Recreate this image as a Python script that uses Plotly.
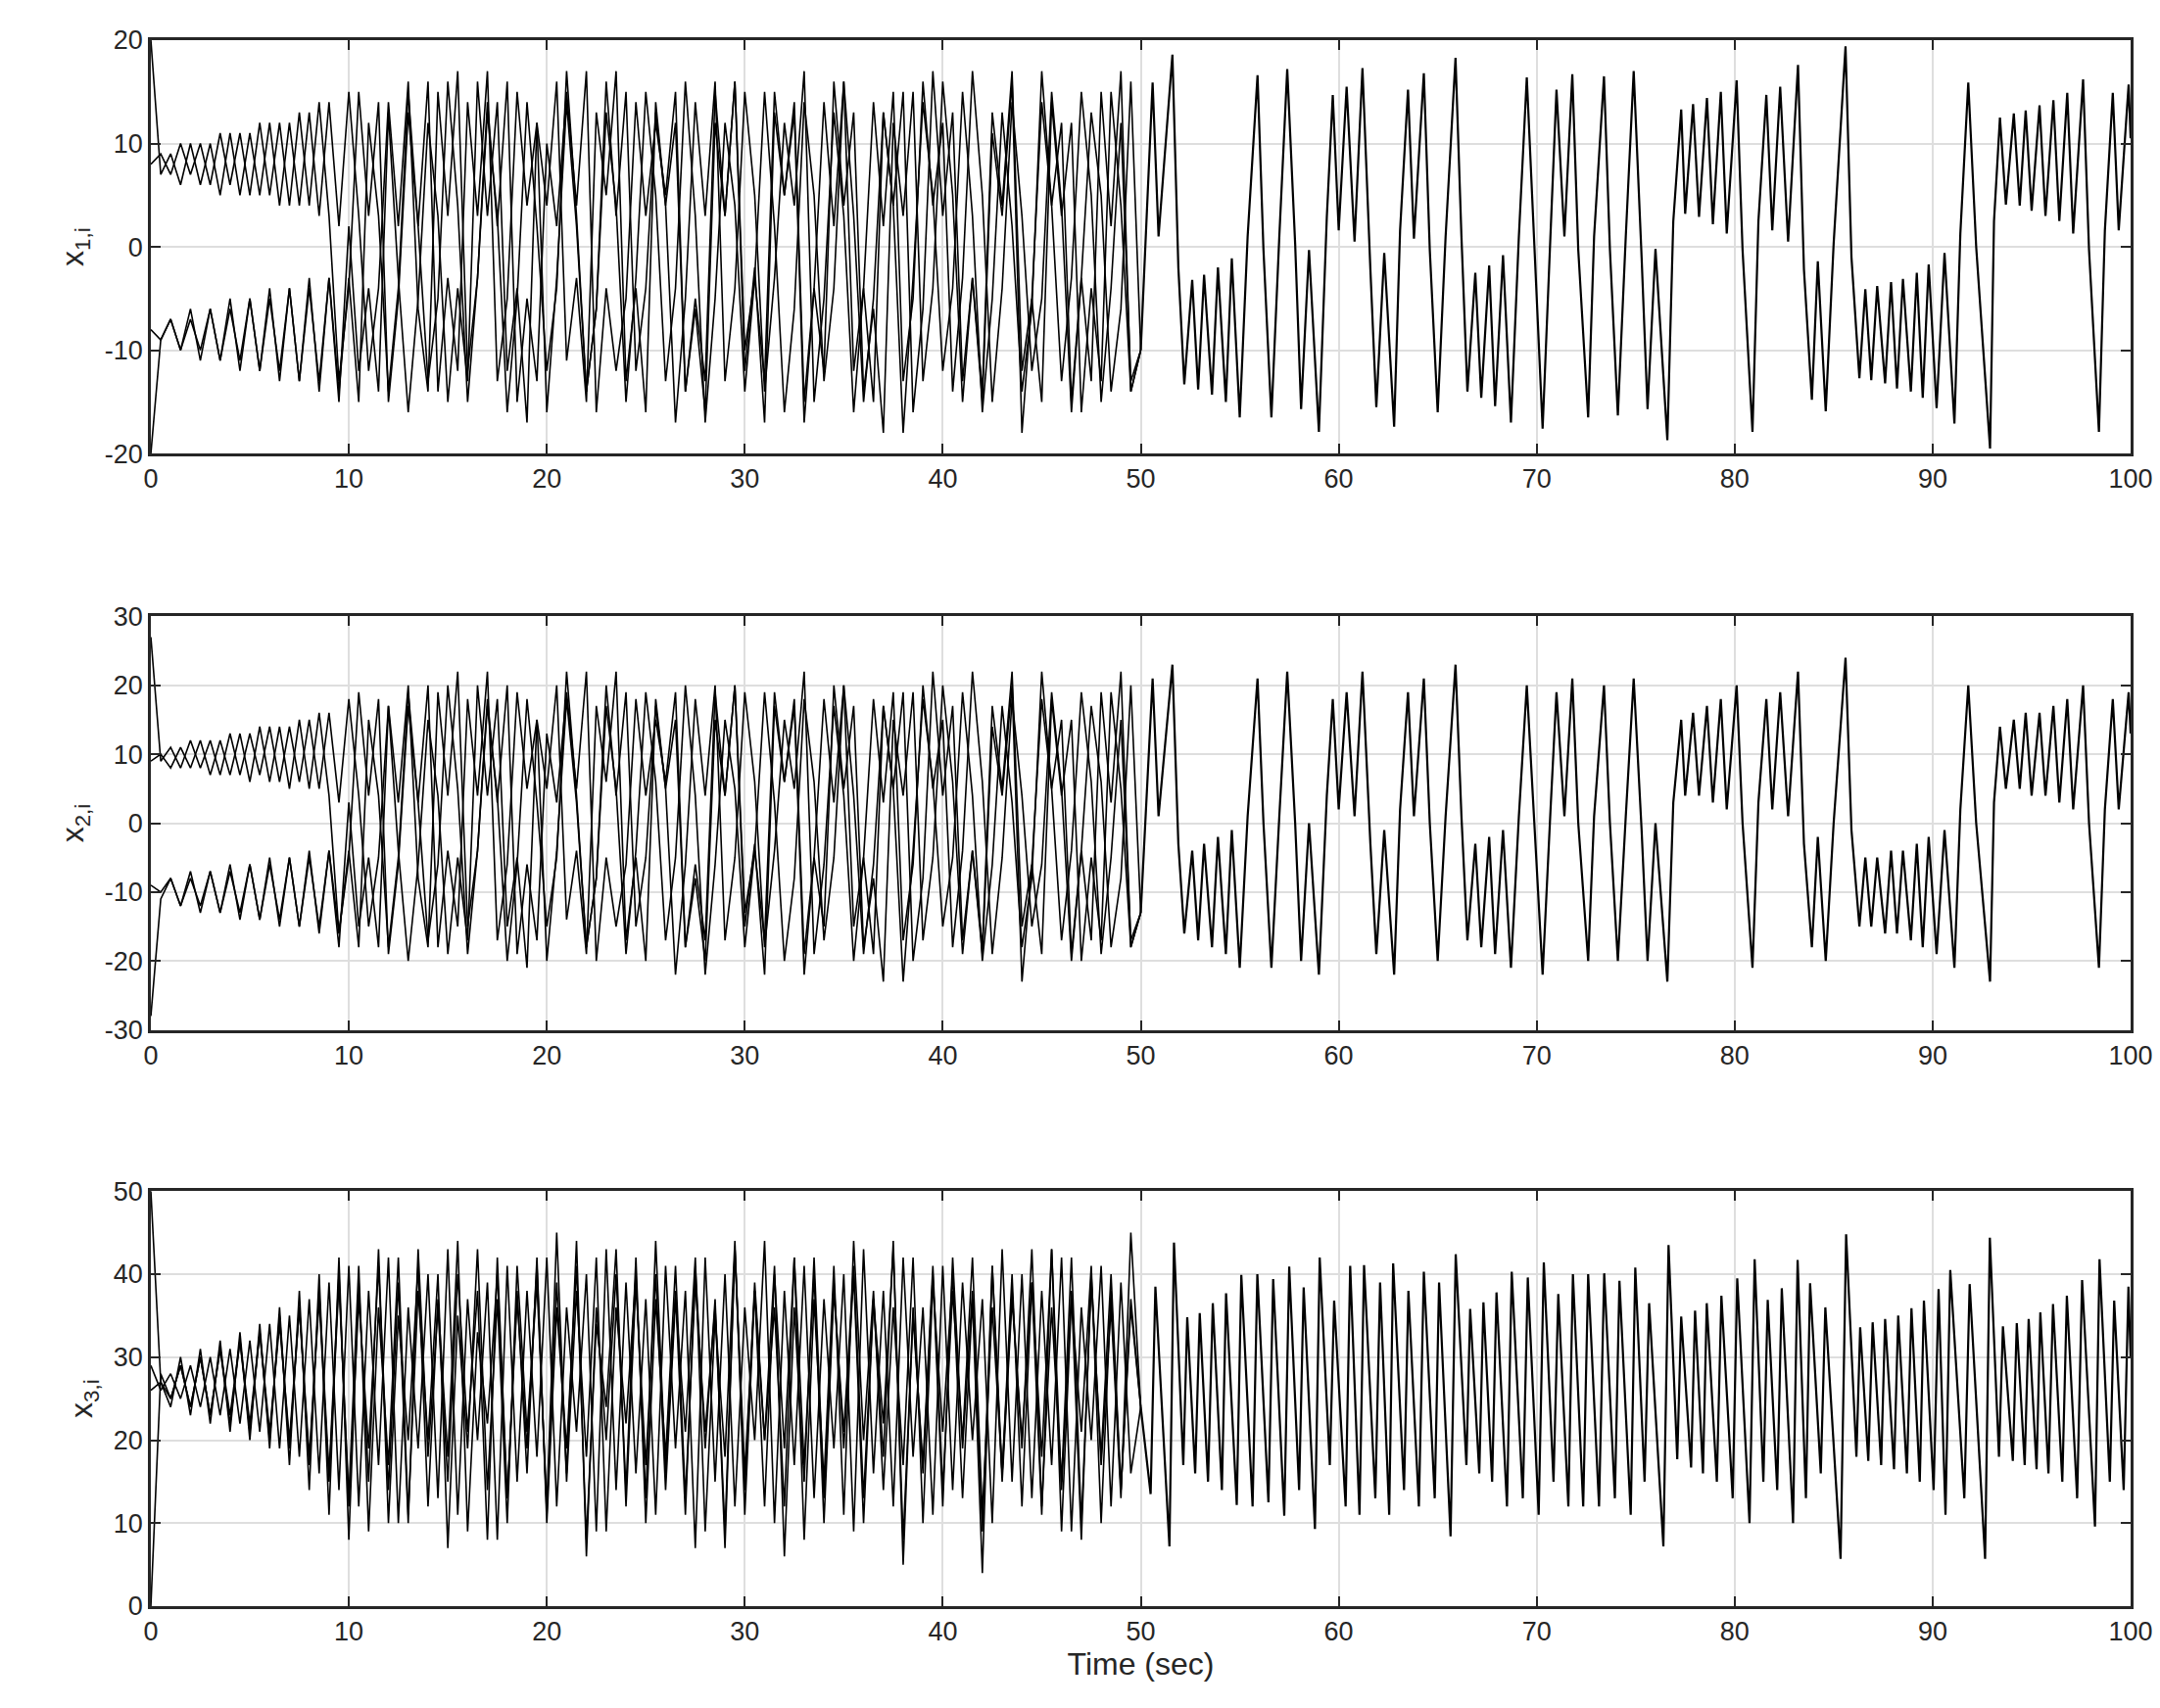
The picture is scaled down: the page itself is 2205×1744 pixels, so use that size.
import numpy as np
import plotly.graph_objects as go
from plotly.subplots import make_subplots

# ---- data ----
# before synchronisation (0-50 s), four agents, sampled every 0.5 s
t_pre = np.arange(100) * 0.5

x1_a = [20,7,9,6,10,6,10,5,11,5, 11,5,12,4,12,4,13,3,14,2, 15,3,-12,-4,14,2,16,-6,-14,15,
        3,17,-12,-3,14,2,16,-15,-5,-13, 10,2,15,4,17,-16,-4,-12,-5,14, 3,12,5,15,-14,-6,-16,12,3,16,
        -10,-3,-13,15,5,13,-17,-4,14,2, 16,-12,-4,-15,13,4,15,-16,-6,17, 3,13,-13,-3,-15,11,3,16,-18,-5,
        14,4,12,-15,-3,-13,15,2,17,-14]
x1_b = [-20,-9,-7,-10,-6,-11,-6,-11,-5,-12, -5,-12,-4,-13,-4,-13,-3,-14,-3,-15, 2,-12,-4,-14,13,-3,-16,-5,12,3,
        -15,-4,-13,16,3,14,-12,-4,-17,12, 4,16,-11,-3,-15,13,5,17,-13,-4, -16,14,4,12,-14,-5,-13,15,3,16,
        -12,-2,-17,13,5,14,-15,-4,-12,16, 4,13,-14,-6,-18,12,3,15,-13,-4, 16,5,-15,-3,-14,13,4,17,-12,-5,
        -15,14,3,12,-16,-4,-13,15,4,-14]
x1_c = [8,9,7,10,7,10,6,11,6,11, 5,12,5,12,4,13,4,14,3,-13, -4,15,3,14,-15,-5,13,2,16,-14,
        -3,-12,14,3,17,-13,-5,15,4,12, -16,-3,14,2,-14,-6,16,3,15,-12, -4,13,4,-17,-5,14,3,16,-13,-4,
        15,5,-14,-3,12,4,17,-15,-5,13, 3,-16,-4,14,2,15,-13,-5,16,4, 12,-14,-3,17,5,-15,-4,14,3,-12,
        -5,15,4,-16,-3,13,5,-14,-6,16]
x1_d = [-8,-9,-7,-10,-7,-10,-6,-11,-6,-11, -5,-12,-5,-12,-4,-13,-4,-13,-3,-14, -3,-15,12,3,-14,-4,15,2,-13,-5,
        16,4,-15,-3,13,3,-16,-5,14,2, -12,-4,17,3,-14,-6,13,4,-15,-3, 15,5,-13,-4,16,3,-17,-5,12,4,
        -14,-3,15,2,-16,-6,14,5,-13,-4, 16,3,-15,-5,13,4,-18,-3,14,5, -12,-4,15,3,-16,-5,13,2,-14,-6,
        17,4,-13,-3,15,5,-15,-4,12,-13]

x2_a = [27,9,11,8,12,8,12,7,13,7, 13,7,14,6,14,6,15,5,16,3, 18,4,-15,-5,17,3,20,-8,-18,19,
        4,22,-15,-4,18,3,20,-19,-6,-17, 13,3,19,5,22,-20,-5,-15,-6,18, 4,15,6,19,-18,-8,-20,15,4,20,
        -13,-4,-17,19,6,17,-22,-5,18,3, 20,-15,-5,-19,17,5,19,-20,-8,22, 4,17,-17,-4,-19,14,4,20,-23,-6,
        18,5,15,-19,-4,-17,19,3,22,-18]
x2_b = [-28,-11,-8,-12,-7,-13,-7,-13,-6,-14, -6,-14,-5,-15,-5,-15,-4,-16,-4,-18, 3,-15,-5,-18,17,-4,-20,-6,15,4,
        -19,-5,-17,20,4,18,-15,-5,-21,15, 5,20,-14,-4,-19,17,6,22,-17,-5, -20,18,5,15,-18,-6,-17,19,4,20,
        -15,-3,-22,17,6,18,-19,-5,-15,20, 5,17,-18,-8,-23,15,4,19,-17,-5, 20,6,-19,-4,-18,17,5,22,-15,-6,
        -19,18,4,15,-20,-5,-17,19,5,-18]
x2_c = [9,10,8,11,8,12,7,12,7,13, 6,14,6,14,5,15,5,16,4,-16, -5,19,4,18,-19,-6,17,3,20,-18,
        -4,-15,18,4,22,-17,-6,19,5,15, -20,-4,18,3,-18,-8,20,4,19,-15, -5,17,5,-22,-6,18,4,20,-17,-5,
        19,6,-18,-4,15,5,22,-19,-6,17, 4,-20,-5,18,3,19,-17,-6,20,5, 15,-18,-4,22,6,-19,-5,18,4,-15,
        -6,19,5,-20,-4,17,6,-18,-8,20]
x2_d = [-9,-10,-8,-12,-8,-12,-7,-13,-7,-13, -6,-14,-6,-14,-5,-15,-5,-15,-4,-16, -4,-18,15,4,-18,-5,19,3,-17,-6,
        20,5,-19,-4,17,4,-20,-6,18,3, -15,-5,22,4,-18,-8,17,5,-19,-4, 19,6,-17,-5,20,4,-22,-6,15,5,
        -18,-4,19,3,-20,-8,18,6,-17,-5, 20,4,-19,-6,17,5,-23,-4,18,6, -15,-5,19,4,-20,-6,17,3,-18,-8,
        22,5,-17,-4,19,6,-19,-5,15,-17]

x3_a = [50,27,24,30,23,31,22,32,21,33, 20,34,19,36,17,38,14,40,11,42, 8,39,15,43,10,35,20,41,12,37,
        18,44,9,33,22,40,13,38,16,42, 10,36,19,41,8,34,24,43,12,39, 17,40,14,37,21,42,9,35,18,44,
        11,38,20,41,6,36,15,42,13,39, 19,40,10,37,22,43,8,35,17,41, 14,38,20,42,11,36,16,40,12,39,
        18,43,9,37,21,41,10,38,14,36]
x3_b = [0,28,25,29,24,30,23,31,22,32, 22,33,21,34,20,36,18,37,15,39, 13,41,9,36,17,42,11,38,20,40,
        7,35,19,43,14,37,10,41,21,39, 12,45,15,38,18,42,9,36,22,40, 13,44,16,38,11,41,19,37,7,43,
        14,39,20,36,12,42,17,40,10,38, 21,41,13,37,18,44,5,36,16,40, 12,42,19,38,9,41,15,37,20,39,
        11,43,14,38,8,40,17,36,13,45]
x3_c = [26,27,25,29,24,30,23,31,23,32, 21,33,20,35,19,36,17,38,16,40, 12,37,19,41,14,39,10,43,18,36,
        15,40,21,38,8,42,13,37,19,41, 11,39,16,44,6,36,20,40,14,42, 10,37,18,41,13,39,21,36,9,43,
        16,38,12,40,19,42,8,37,15,41, 11,44,20,38,14,36,17,42,10,39, 21,40,13,37,4,41,16,38,19,43,
        12,36,15,42,10,39,18,40,14,37]
x3_d = [29,26,28,25,29,24,30,23,31,22, 32,21,34,19,35,18,37,16,39,14, 41,12,38,17,42,10,36,19,40,13,
        43,11,37,20,39,8,41,15,38,18, 42,12,36,21,40,9,43,14,39,16, 37,11,41,19,38,7,42,15,40,12,
        36,20,44,10,38,17,41,13,37,19, 40,9,43,16,38,12,42,18,36,11, 41,14,39,20,37,10,43,15,40,13,
        38,17,42,9,36,20,41,12,39,16]

# after synchronisation (50-100 s): one common trajectory, turning points
t_sync = [50.0,50.6,50.9,51.6,51.9,52.2,52.6,52.9,53.2,53.6,53.9,54.3,54.6,55.0,55.4,55.9,56.2,56.6,57.0,57.4,
          57.8,58.1,58.5,59.0,59.4,59.7,60.0,60.4,60.8,61.2,61.6,61.9,62.3,62.8,63.1,63.5,63.8,64.3,64.6,65.0,
          65.4,65.9,66.2,66.5,66.9,67.2,67.6,67.9,68.3,68.7,69.1,69.5,69.9,70.3,70.7,71.0,71.4,71.8,72.1,72.6,
          72.9,73.4,73.7,74.1,74.5,74.9,75.3,75.6,76.0,76.6,76.9,77.3,77.5,77.9,78.2,78.6,78.9,79.3,79.6,80.1,
          80.4,80.9,81.2,81.6,81.9,82.3,82.7,83.2,83.5,83.9,84.2,84.6,85.0,85.6,85.9,86.3,86.6,86.9,87.2,87.6,
          87.9,88.2,88.5,88.9,89.2,89.5,89.8,90.2,90.6,91.1,91.4,91.8,92.2,92.9,93.1,93.4,93.7,94.1,94.4,94.7,
          95.0,95.4,95.7,96.1,96.4,96.8,97.1,97.6,97.9,98.4,98.7,99.1,99.4,99.9,100.0]
x1_sync = [-10,15.9,1,18.6,-2,-13.3,-3.2,-13.8,-2.7,-14.3,-2,-15,-1.1,-16.5,1,16.6,-0.3,-16.5,1,17.2,
           0.3,-15.7,-0.3,-17.9,2.9,14.7,1.6,15.5,0.5,17.3,-2.2,-15.5,-0.6,-17.4,1.6,15.2,0.8,16.8,-0.3,-16,
           1,18.3,1,-14,-2.5,-14.6,-1.8,-15.4,-0.8,-17,1,16.4,-0.6,-17.6,1.3,15.2,1,16.7,-0.3,-16.5,
           1,16.5,-0.3,-16.3,1,17,-1,-15.7,-0.2,-18.7,2.5,13.3,3.2,13.8,2.9,14.4,2.2,15,1.3,16.1,
           -0.3,-17.9,2.5,14.7,1.6,15.5,0.5,17.6,-2.2,-14.8,-1.4,-15.9,0.3,19.4,-1,-12.7,-4.1,-12.9,-3.8,-13.2,
           -3.4,-13.7,-3.1,-14,-2.5,-14.6,-1.7,-15.6,-0.6,-17.1,1.3,15.9,0,-19.5,2.5,12.5,4.1,12.9,4,13.2,
           3.5,13.7,3,14.2,2.5,14.9,1.3,16.2,-0.3,-17.9,1.6,14.9,1.6,15.7,10.5]
x2_sync = [-13,21,1,23,-3,-16,-4,-17,-3,-18,-2,-19,-1,-21,1,21,0,-21,1,22,
           0,-20,0,-22,4,18,2,19,1,22,-3,-19,-1,-22,2,19,1,21,0,-20,
           1,23,1,-17,-3,-18,-2,-19,-1,-21,1,20,-1,-22,2,19,1,21,0,-20,
           1,20,0,-20,1,21,-1,-20,0,-23,3,15,4,16,4,17,3,18,2,20,
           0,-21,3,18,2,19,1,22,-3,-18,-2,-20,0,24,-1,-15,-5,-15,-5,-16,
           -4,-16,-4,-17,-3,-18,-2,-19,-1,-21,2,20,0,-23,3,14,5,15,5,16,
           4,16,4,17,3,18,2,20,0,-21,2,18,2,19,13]

t3_sync = [50.0,50.5,50.74,51.45,51.68,52.15,52.35,52.75,52.98,53.4,53.64,54.1,54.31,54.85,55.08,55.65,55.89,56.45,56.69,57.25,
           57.50,58.0,58.23,58.8,59.04,59.55,59.77,60.35,60.58,61.05,61.28,61.85,62.09,62.55,62.75,63.3,63.52,64.05,64.30,64.85,
           65.07,65.65,65.91,66.45,66.64,67.1,67.31,67.75,67.97,68.5,68.74,69.3,69.55,70.1,70.36,70.85,71.09,71.6,71.83,72.35,
           72.60,73.15,73.41,73.95,74.18,74.75,74.98,75.45,75.68,76.4,76.66,77.1,77.30,77.8,78.00,78.4,78.59,79.1,79.33,79.9,
           80.13,80.75,81.01,81.45,81.67,82.15,82.38,82.95,83.18,83.6,83.81,84.35,84.58,85.35,85.63,86.15,86.34,86.75,86.97,87.4,
           87.60,88.05,88.26,88.7,88.93,89.35,89.56,90.05,90.30,90.65,90.89,91.6,91.87,92.65,92.89,93.35,93.55,94.05,94.25,94.65,
           94.85,95.25,95.44,95.85,96.08,96.55,96.78,97.3,97.55,98.2,98.43,98.95,99.17,99.65,99.89,100.0]
x3_sync = [24,13.5,38.5,7.2,43.8,17,34.8,16,35.3,15,36.5,14,37.7,12.2,39.9,12,40,12.5,39.4,10.9,
           40.9,14,38.4,9.3,42,17,36.8,12,41,11,41.1,13,39,11,41.3,14,38,12,40.3,13,
           39,8.4,42.4,17,35.8,16,36.6,15,37.8,12,40.3,13,39.6,11,41.4,15,37.6,12,40,12,
           40,12,40.1,13,39.2,11,40.8,15,36.5,7.2,43.5,17.7,34.9,16.7,35.6,16,36.5,15,37.4,13,
           39.5,10,41.8,15,36.9,14,38.3,10,41.7,13,38.9,16,36,5.7,44.8,18,33.6,17.5,34.2,17,
           34.6,16.5,35,16,35.9,15,36.8,14,38.2,11,40.5,13,38.8,5.7,44.4,18,33.7,17.5,34.1,17,
           34.6,16.5,35.4,16,36.4,15,37.4,13,39.3,9.6,41.8,15,36.8,14,38.5,30]

y_ticks = {1: [-20, -10, 0, 10, 20], 2: [-30, -20, -10, 0, 10, 20, 30], 3: [0, 10, 20, 30, 40, 50]}

pre = {1: [x1_a, x1_b, x1_c, x1_d], 2: [x2_a, x2_b, x2_c, x2_d], 3: [x3_a, x3_b, x3_c, x3_d]}
sync = {1: (t_sync, x1_sync), 2: (t_sync, x2_sync), 3: (t3_sync, x3_sync)}

fig = make_subplots(rows=3, cols=1, vertical_spacing=0.1)
for row in (1, 2, 3):
    ts, vs = sync[row]
    for series in pre[row]:
        fig.add_trace(go.Scatter(x=list(t_pre) + [ts[0]], y=series + [vs[0]], mode="lines",
                                 line=dict(color="black", width=1.6), showlegend=False), row=row, col=1)
    fig.add_trace(go.Scatter(x=ts, y=vs, mode="lines", line=dict(color="black", width=2.2),
                             showlegend=False), row=row, col=1)

font = dict(family="Liberation Sans, Arial, sans-serif", size=27, color="#262626")
fig.update_layout(width=2205, height=1744, plot_bgcolor="white", paper_bgcolor="white",
                  margin=dict(l=146, r=38, t=33, b=112), font=font)
axis_style = dict(showline=True, linecolor="#262626", linewidth=2.5, mirror="ticks", ticks="inside",
                  ticklen=10, tickwidth=2, tickcolor="#262626", showgrid=True, gridcolor="#dedede",
                  gridwidth=2, zeroline=False)
doms = {1: [0.736, 1.0], 2: [0.368, 0.632], 3: [0.0, 0.265]}
for row in (1, 2, 3):
    tv = y_ticks[row]
    fig.update_xaxes(range=[0, 100], dtick=10, row=row, col=1, **axis_style)
    fig.update_yaxes(range=[tv[0], tv[-1]], tickvals=tv, ticktext=[str(v) for v in tv], domain=doms[row],
                     title=dict(text=f"x<sub>{row},i</sub>", standoff=12), row=row, col=1, **axis_style)
fig.update_xaxes(title=dict(text="Time (sec)", standoff=8), row=3, col=1)

fig.write_html("out.html")
